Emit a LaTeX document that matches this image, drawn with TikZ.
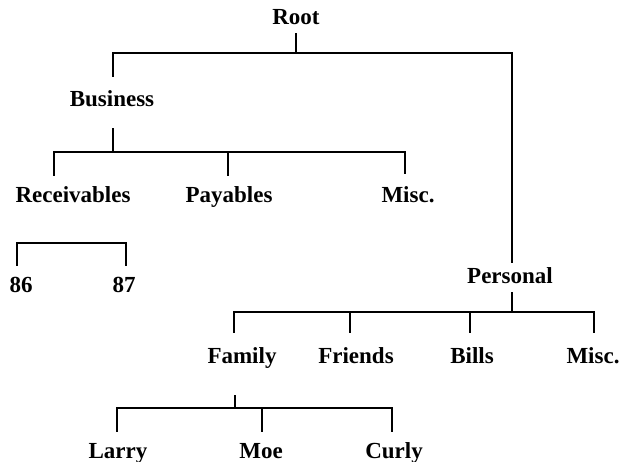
\documentclass[tikz,border=0pt]{standalone}
\usepackage{fontspec}
\setmainfont{Liberation Serif}
\begin{document}
\begin{tikzpicture}[x=1pt,y=-1pt,
  lbl/.style={font=\fontsize{23}{26}\selectfont\bfseries, anchor=base, inner sep=0pt},
  conn/.style={line width=1.8pt, line cap=rect}]
\useasboundingbox (0,0) rectangle (620,462);
% labels
\node[lbl] (root)  at (296,25)  {Root};
\node[lbl] (bus)   at (112,107) {Business};
\node[lbl] (rec)   at (73,203)  {Receivables};
\node[lbl] (pay)   at (229,203) {Payables};
\node[lbl] (misca) at (408,203) {Misc.};
\node[lbl] (n86)   at (21,292)  {86};
\node[lbl] (n87)   at (124,292) {87};
\node[lbl] (pers)  at (510,283) {Personal};
\node[lbl] (fam)   at (242,363) {Family};
\node[lbl] (fri)   at (356,363) {Friends};
\node[lbl] (bills) at (472,363) {Bills};
\node[lbl] (miscb) at (593,363) {Misc.};
\node[lbl] (larry) at (118,458) {Larry};
\node[lbl] (moe)   at (261,458) {Moe};
\node[lbl] (curly) at (394,458) {Curly};
% connector points
\coordinate (rootS) at (296,34);  \coordinate (rootB) at (296,53);
\coordinate (busT) at (113,76);   \coordinate (persT) at (512,262);
\coordinate (busS) at (113,129);  \coordinate (busB) at (113,152);
\coordinate (recT) at (54,175);   \coordinate (payT) at (228,175);  \coordinate (miscaT) at (405,173);
\coordinate (recBar) at (17,243); \coordinate (n86T) at (17,265);   \coordinate (n87T) at (126,265);
\coordinate (persS) at (512,293); \coordinate (persB) at (512,312);
\coordinate (famT) at (234,332);  \coordinate (friT) at (350,332);
\coordinate (billsT) at (470,332); \coordinate (miscbT) at (594,332);
\coordinate (famS) at (235,396);  \coordinate (famB) at (235,408);
\coordinate (larT) at (117,431);  \coordinate (moeT) at (262,431);  \coordinate (curT) at (392,431);
% connectors
\draw[conn] (rootS) -- (rootB);
\draw[conn] (busT) |- (rootB) -| (persT);
\draw[conn] (busS) -- (busB);
\draw[conn] (recT) |- (busB) -| (miscaT);
\draw[conn] (payT) -- (payT |- busB);
\draw[conn] (n86T) -- (recBar) -| (n87T);
\draw[conn] (persS) -- (persB);
\draw[conn] (famT) |- (persB) -| (miscbT);
\draw[conn] (friT) -- (friT |- persB);
\draw[conn] (billsT) -- (billsT |- persB);
\draw[conn] (famS) -- (famB);
\draw[conn] (larT) |- (famB) -| (curT);
\draw[conn] (moeT) -- (moeT |- famB);
\end{tikzpicture}
\end{document}
